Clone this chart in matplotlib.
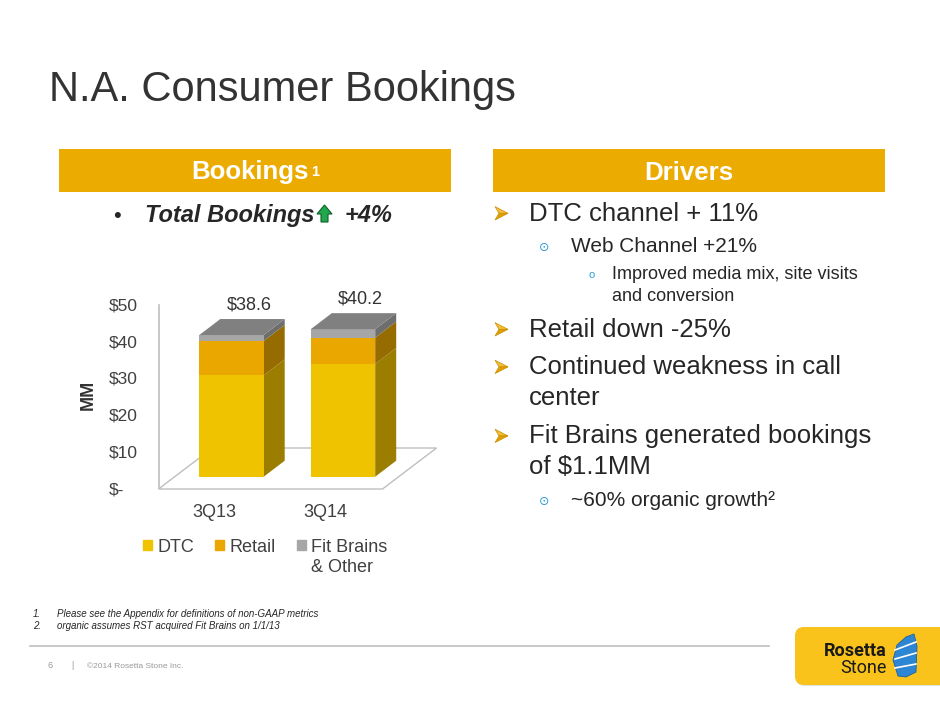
import matplotlib.pyplot as plt
import matplotlib.transforms as mtransforms
from matplotlib.patches import Polygon, Patch, Rectangle, FancyBboxPatch
from matplotlib.text import Annotation

# chart data (MM)
quarters = ["3Q13", "3Q14"]
dtc = [27.6, 30.7]
retail = [9.4, 7.2]
fit_other = [1.6, 2.3]
totals = [38.6, 40.2]
series_names = ["DTC", "Retail", "Fit Brains"]
y_ticks = [0, 10, 20, 30, 40, 50]
y_tick_labels = ["$-", "$10", "$20", "$30", "$40", "$50"]

front_colors = ["#EFC300", "#EAA700", "#A6A6A6"]
side_colors = ["#9B7D00", "#966C00", "#6E6E6E"]
top_color = "#808080"

W, H = 940, 705
plt.rcParams['font.family'] = ['Liberation Sans', 'DejaVu Sans']
fig = plt.figure(figsize=(W / 100, H / 100), dpi=100)

# overlay in pixel coords for slide decorations
deco = fig.add_axes([0, 0, 1, 1], zorder=0)
deco.set_xlim(0, W)
deco.set_ylim(H, 0)
deco.axis('off')

body = "#262626"
gold = "#EBAB00"

deco.text(49, 101, "N.A. Consumer Bookings", fontsize=30, color="#333333", va='baseline')

# section headers
deco.add_patch(Rectangle((59.3, 149), 391.4, 42.7, color=gold, lw=0))
deco.add_patch(Rectangle((493.3, 149), 391.7, 42.7, color=gold, lw=0))
deco.text(191.5, 179.3, "Bookings", fontsize=18.6, weight='bold', color='white', va='baseline')
deco.text(311, 176, "1", fontsize=10.5, weight='bold', color='white', va='baseline')
deco.text(689.2, 179.5, "Drivers", fontsize=18.6, weight='bold', color='white', va='baseline', ha='center')

# total bookings line
deco.text(113, 221.7, "\u2022", fontsize=16, color=body, va='baseline')
deco.text(145, 221.7, "Total Bookings", fontsize=17, weight='bold', style='italic', color=body, va='baseline')
deco.add_patch(Polygon([(317, 214), (324.5, 205), (332, 214), (328, 214), (328, 222),
                        (321, 222), (321, 214)], closed=True, fc="#22A84C", ec="#0E5E28", lw=0.8))
deco.text(345, 221.7, "+4%", fontsize=17, weight='bold', style='italic', color=body, va='baseline')


def arrow_bullet(x, yc):
    # orange 3-D arrowhead
    deco.add_patch(Polygon([(x, yc - 6.7), (x + 13, yc), (x + 4, yc)], closed=True,
                           fc="#F4BE3A", ec="#C98F00", lw=0.5))
    deco.add_patch(Polygon([(x + 4, yc), (x + 13, yc), (x, yc + 6.7)], closed=True,
                           fc="#E09E00", ec="#C98F00", lw=0.5))


# drivers bullets
big, mid, small = 18.5, 15, 13
blue = "#2E9BD6"
lines = [
    ("DTC channel + 11%", 220.7, 1),
    ("Web Channel +21%", 252.3, 2),
    ("Improved media mix, site visits", 279.3, 3),
    ("and conversion", 301, 4),
    ("Retail down -25%", 336.7, 1),
    ("Continued weakness in call", 374.3, 1),
    ("center", 405, 0),
    ("Fit Brains generated bookings", 443.3, 1),
    ("of $1.1MM", 474, 0),
    ("~60% organic growth\u00b2", 506, 2),
]
for txt, base, lvl in lines:
    if lvl in (0, 1):
        if lvl == 1:
            arrow_bullet(495, base - 7.4)
        deco.text(529.3, base, txt, fontsize=big, color=body, va='baseline')
    elif lvl == 2:
        deco.text(544.5, base - 4.5, "\u2299", fontsize=9, color=blue, va='center', ha='center',
                  family=['DejaVu Sans'])
        deco.text(571, base, txt, fontsize=mid, color=body, va='baseline')
    else:
        if lvl == 3:
            deco.text(591.7, base - 4.5, "o", fontsize=8, color=blue, va='center', ha='center')
        deco.text(611.7, base, txt, fontsize=small, color=body, va='baseline')

# footnotes and footer
deco.text(33, 616.7, "1.", fontsize=7, style='italic', color=body, va='baseline')
deco.text(57.3, 616.7, "Please see the Appendix for definitions of non-GAAP metrics",
          fontsize=7, style='italic', color=body, va='baseline')
deco.text(33, 629.3, "2.", fontsize=7, style='italic', color=body, va='baseline')
deco.text(57.3, 629.3, "organic assumes RST acquired Fit Brains on 1/1/13",
          fontsize=7, style='italic', color=body, va='baseline')
deco.plot([30, 769], [646, 646], color="#BFBFBF", lw=1.2)
deco.text(48, 668.3, "6", fontsize=6.5, color="#999999", va='baseline')
deco.text(71.5, 668.3, "|", fontsize=6.5, color="#999999", va='baseline')
deco.text(86.7, 668.3, "\u00a92014 Rosetta Stone Inc.", fontsize=6, color="#999999", va='baseline')

# logo
deco.add_patch(FancyBboxPatch((796, 628), 160, 58, boxstyle="round,pad=0,rounding_size=9",
                              fc="#E0E0E0", ec='none'))
deco.add_patch(FancyBboxPatch((795, 627), 160, 58, boxstyle="round,pad=0,rounding_size=9",
                              fc="#F9C31B", ec='none'))
deco.text(887, 656, "Rosetta", fontsize=13, color="#1A1A1A", weight='bold', ha='right',
          va='baseline', family=['Roboto', 'Liberation Sans'])
deco.text(887, 672.7, "Stone", fontsize=13, color="#1A1A1A", ha='right', va='baseline',
          family=['Roboto', 'Liberation Sans'])
deco.add_patch(Polygon([(898, 676), (893, 660), (897, 645), (906, 637), (914, 634),
                        (917, 646), (916, 672), (906, 677)], closed=True, fc="#2D86D3", ec="#1F5FA0", lw=0.6))
for ya, yb in [(650, 642), (659, 653), (668, 664)]:
    deco.plot([895, 916], [ya, yb], color='white', lw=1.2)

# chart axes, scaled so the bars land where the slide has them
L, R, T, B = 60, 460, 280, 530
cx0, step = 231.5, 111.5      # pixel centre of first bar front, pixels per category
y0, ppu = 476.7, 3.67         # pixel of value 0 on bar fronts, pixels per $MM
ax = fig.add_axes([L / W, 1 - B / H, (R - L) / W, (B - T) / H], zorder=1)
ax.patch.set_alpha(0)
ax.set_xlim((L - cx0) / step, (R - cx0) / step)
ax.set_ylim(-(B - y0) / ppu, (y0 - T) / ppu)
for s in ax.spines.values():
    s.set_visible(False)


def px_x(x):
    return (x - cx0) / step


def px_y(y):
    return (y0 - y) / ppu


bar_w = 64.4 / step
dep_x = 21 / step
dep_y = 16 / ppu

# floor and wall
ax.add_patch(Polygon([(px_x(158.5), px_y(489)), (px_x(382.5), px_y(489)),
                      (px_x(436.5), px_y(448)), (px_x(212.5), px_y(448))],
                     closed=True, fill=False, ec="#BFBFBF", lw=1, zorder=1))
wall_shift = mtransforms.ScaledTranslation(0, -11.3 / 100, fig.dpi_scale_trans)
ax.plot([px_x(159), px_x(159)], [0, 50], color="#BFBFBF", lw=1.2, zorder=1,
        transform=ax.transData + wall_shift)

xs = list(range(len(quarters)))
bottom = [0.0] * len(xs)
for vals, fc, sc in zip([dtc, retail, fit_other], front_colors, side_colors):
    ax.bar(xs, vals, width=bar_w, bottom=bottom, color=fc, lw=0, zorder=3)
    for i, v in enumerate(vals):
        xr = xs[i] + bar_w / 2
        b = bottom[i]
        ax.add_patch(Polygon([(xr, b), (xr + dep_x, b + dep_y), (xr + dep_x, b + v + dep_y),
                              (xr, b + v)], closed=True, fc=sc, ec='none', zorder=2))
    bottom = [b + v for b, v in zip(bottom, vals)]

for i, top in enumerate(bottom):
    xl, xr = xs[i] - bar_w / 2, xs[i] + bar_w / 2
    ax.add_patch(Polygon([(xl, top), (xl + dep_x, top + dep_y), (xr + dep_x, top + dep_y),
                          (xr, top)], closed=True, fc=top_color, ec='none', zorder=3))
    ax.annotate(f"${totals[i]:.1f}", xy=(xs[i] + dep_x / 2, top + dep_y), xytext=(7, 10),
                textcoords='offset pixels', ha='center', va='baseline', fontsize=13, color="#333333")

# axis labels
ax.set_yticks(y_ticks, y_tick_labels)
ax.tick_params(axis='y', length=0, pad=0, labelsize=12.5, labelcolor="#404040")
ylab_shift = mtransforms.ScaledTranslation((108.5 - L) / 100, -11.3 / 100, fig.dpi_scale_trans)
for lab in ax.get_yticklabels():
    lab.set_ha('left')
    lab.set_transform(lab.get_transform() + ylab_shift)

ax.set_xticks(xs, quarters)
ax.tick_params(axis='x', length=0, pad=0, labelsize=13, labelcolor="#404040")
xlab_shift = mtransforms.ScaledTranslation(-17.3 / 100, (B - 516.7) / 100, fig.dpi_scale_trans)
for lab in ax.get_xticklabels():
    lab.set_va('baseline')
    lab.set_transform(lab.get_transform() + xlab_shift)

deco.text(88, 395, "MM", fontsize=13, weight='bold', rotation=90, ha='center', va='center', color="#333333")

# legend
handles = [Patch(color=c) for c in front_colors]
leg = ax.legend(handles, series_names, loc='center left', bbox_to_anchor=(143.3 / W, 1 - 547 / H),
                bbox_transform=fig.transFigure, ncol=3, frameon=False, fontsize=13,
                handlelength=0.5, handleheight=0.5, handletextpad=0.3, columnspacing=1.15,
                borderpad=0, borderaxespad=0, labelcolor="#404040")
# second line of the last legend label, placed after the legend is laid out
other = Annotation("& Other", xy=(0, 0), xycoords=leg.get_texts()[2], xytext=(0, -16.3),
                   textcoords='offset pixels', va='baseline', ha='left', fontsize=13, color="#404040")
other.set_zorder(5)
fig.add_artist(other)

fig.savefig("out.png", dpi=100)
